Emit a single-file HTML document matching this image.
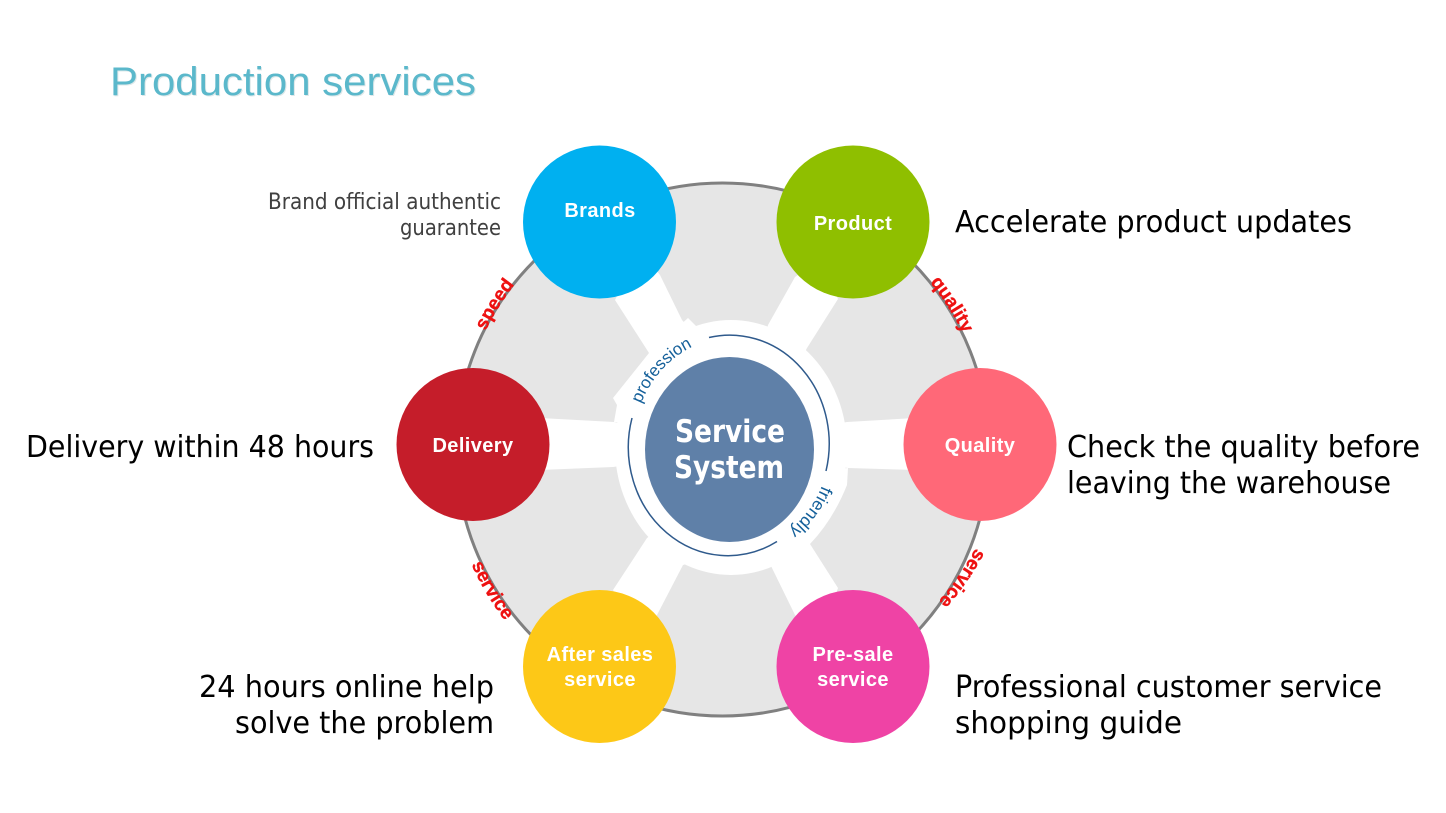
<!DOCTYPE html>
<html><head><meta charset="utf-8"><style>
html,body{margin:0;padding:0;background:#fff}
svg{display:block}
.big{font-family:"DejaVu Sans",sans-serif;font-size:30.5px;fill:#000}
.lab{font-family:"Liberation Sans",sans-serif;font-weight:bold;font-size:20px;letter-spacing:.4px;fill:#fff;text-anchor:middle}
.red{font-family:"Liberation Sans",sans-serif;font-weight:bold;font-size:19px;fill:#ee1111;stroke:#ee1111;stroke-width:.35px}
.blu{font-family:"Liberation Sans",sans-serif;font-size:17px;fill:#15609a}
</style></head><body>
<svg width="1446" height="813" viewBox="0 0 1446 813" xmlns="http://www.w3.org/2000/svg">
<defs>
<path id="pSpeed" d="M485.5 331 A265 265 0 0 1 536.3 259.8" fill="none"/>
<path id="pQual" d="M928 280 A267 267 0 0 1 974.4 360.3" fill="none"/>
<path id="pSvcL" d="M471.5 564.5 A276 276 0 0 0 528.4 647.4" fill="none"/>
<path id="pSvcR" d="M975.7 548 A300 300 0 0 1 920 621" fill="none"/>
<path id="pProf" d="M641 403.7 A100 111 0 0 1 722.5 338" fill="none"/>
<path id="pFri" d="M822 485.5 A100 108 0 0 1 780 536.5" fill="none"/>
</defs>
<rect width="1446" height="813" fill="#fff"/>

<text x="110" y="95" font-family="Liberation Sans, sans-serif" font-size="40" fill="#c9d9dc" opacity=".6" textLength="366" lengthAdjust="spacingAndGlyphs" transform="translate(1 1)">Production services</text>
<text x="110" y="95" font-family="Liberation Sans, sans-serif" font-size="40" fill="#5bb8cb" textLength="366" lengthAdjust="spacingAndGlyphs">Production services</text>

<circle cx="722.5" cy="449.5" r="266.5" fill="#e6e6e6" stroke="#808080" stroke-width="3"/>
<ellipse cx="731" cy="447.5" rx="116" ry="127.5" fill="#fff"/>

<g fill="#fff">
<polygon points="615,300 649,353 700,400 700,340 682,320 660,275 640,250"/>
<polygon points="795,277 768,325 760,360 790,380 807,348 838,299 820,260"/>
<polygon points="540,418 614,422 660,430 660,460 613,467 540,470"/>
<polygon points="847,422 915,418 915,470 848,468 800,460 800,430"/>
<polygon points="613,590 647,538 700,500 700,560 683,565 657,615 640,640"/>
<polygon points="795,615 772,568 760,540 790,520 810,544 838,588 820,640"/>
<polygon points="613,398 649,353 688,318 700,330 650,420 617,405"/>
<polygon points="617,405 614,422 640,422 640,405"/>
<path d="M848 468 L847 485 Q833 520 810 544 L780 548 L830 470 Z"/>
</g>

<ellipse cx="729.5" cy="449.5" rx="84.5" ry="92.5" fill="#5f80a8"/>
<path d="M709 337.5 A99.5 108.5 0 0 1 826 471" fill="none" stroke="#2f5a8c" stroke-width="1.5"/>
<path d="M777 541.5 A99.5 108.5 0 0 1 632 418" fill="none" stroke="#2f5a8c" stroke-width="1.5"/>

<text class="blu"><textPath href="#pProf">profession</textPath></text>
<text class="blu" style="font-size:17.5px"><textPath href="#pFri">friendly</textPath></text>

<text class="red"><textPath href="#pSpeed">speed</textPath></text>
<text class="red"><textPath href="#pQual" startOffset="3">quality</textPath></text>
<text class="red"><textPath href="#pSvcL">service</textPath></text>
<text class="red"><textPath href="#pSvcR">service</textPath></text>

<circle cx="599.5" cy="222" r="76.5" fill="#00b0f0"/>
<circle cx="853" cy="222" r="76.5" fill="#8fbf00"/>
<circle cx="473" cy="444.5" r="76.5" fill="#c51d2a"/>
<circle cx="980" cy="444.5" r="76.5" fill="#ff6878"/>
<circle cx="599.5" cy="666.5" r="76.5" fill="#fdc817"/>
<circle cx="853" cy="666.5" r="76.5" fill="#ef43a5"/>

<text class="lab" x="600" y="217">Brands</text>
<text class="lab" x="853" y="230">Product</text>
<text class="lab" x="473" y="452">Delivery</text>
<text class="lab" x="980" y="452">Quality</text>
<text class="lab" x="600" y="661">After sales</text>
<text class="lab" x="600" y="686">service</text>
<text class="lab" x="853" y="661">Pre-sale</text>
<text class="lab" x="853" y="686">service</text>

<text x="675" y="442" font-family="DejaVu Sans, sans-serif" font-weight="bold" font-size="31" fill="#fff" textLength="110" lengthAdjust="spacingAndGlyphs">Service</text>
<text x="674" y="478" font-family="DejaVu Sans, sans-serif" font-weight="bold" font-size="31" fill="#fff" textLength="110" lengthAdjust="spacingAndGlyphs">System</text>

<text x="268" y="209" font-family="DejaVu Sans, sans-serif" font-size="22" fill="#404040" textLength="233" lengthAdjust="spacingAndGlyphs">Brand official authentic</text>
<text x="400" y="235" font-family="DejaVu Sans, sans-serif" font-size="22" fill="#404040" textLength="101" lengthAdjust="spacingAndGlyphs">guarantee</text>

<text class="big" x="955" y="232" textLength="397" lengthAdjust="spacingAndGlyphs">Accelerate product updates</text>
<text class="big" x="26" y="457" textLength="348" lengthAdjust="spacingAndGlyphs">Delivery within 48 hours</text>
<text class="big" x="1067" y="457" textLength="353" lengthAdjust="spacingAndGlyphs">Check the quality before</text>
<text class="big" x="1067" y="493" textLength="324" lengthAdjust="spacingAndGlyphs">leaving the warehouse</text>
<text class="big" x="199" y="697" textLength="295" lengthAdjust="spacingAndGlyphs">24 hours online help</text>
<text class="big" x="235" y="733" textLength="259" lengthAdjust="spacingAndGlyphs">solve the problem</text>
<text class="big" x="955" y="697" textLength="427" lengthAdjust="spacingAndGlyphs">Professional customer service</text>
<text class="big" x="955" y="733" textLength="227" lengthAdjust="spacingAndGlyphs">shopping guide</text>
</svg>
</body></html>
